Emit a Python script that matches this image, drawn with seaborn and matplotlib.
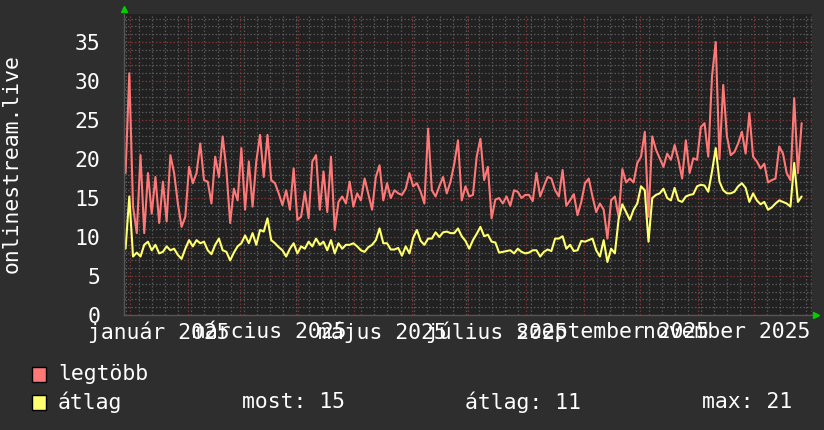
import numpy as np
import pandas as pd
import matplotlib
matplotlib.use("Agg")
import matplotlib.pyplot as plt
import matplotlib.dates as mdates
from matplotlib.patches import Rectangle
from matplotlib.transforms import offset_copy
import seaborn as sns

# ---------------- data ----------------
series_labels = ["legtöbb", "átlag"]
y_label = "onlinestream.live"
month_labels = ["január 2025", "március 2025", "május 2025",
                "július 2025", "szeptember 2025", "november 2025"]
label_months = ["2025-01-01", "2025-03-01", "2025-05-01",
                "2025-07-01", "2025-09-01", "2025-11-01"]
stats_texts = ["most: 15", "átlag: 11", "max: 21"]
start_date = "2024-12-29 18:00"
step = "2D"

max_seg1 = [18.2, 31.0, 13.9, 10.5, 20.5, 10.5, 18.2, 13.0, 17.7, 11.8,
            17.1, 12.0, 20.5, 18.2, 14.3, 11.3, 12.6, 19.0, 16.9, 18.2,
            22.0, 17.3, 17.1, 14.3, 20.3, 17.7, 22.9, 18.6, 11.8, 16.2,
            14.7, 21.4, 13.5, 19.7, 13.9, 19.7, 23.1, 17.7, 23.1, 17.3,
            16.9, 15.6, 14.1, 16.0, 13.5, 18.8, 12.2]
max_seg2 = [12.6, 15.8, 12.4, 19.7, 20.5, 13.5, 18.4, 13.2, 20.3, 10.9,
            14.5, 15.2, 14.3, 17.1, 13.9, 15.6, 14.7, 17.5, 15.5, 13.5,
            17.7, 19.2, 14.7, 16.9, 15.0, 16.0, 15.6, 15.4, 16.2, 18.2,
            16.5, 16.9, 15.8, 14.3, 23.9, 16.0, 15.2, 16.5, 17.7, 15.6,
            17.1, 19.4, 22.4, 14.7, 16.5, 15.2]
max_seg3 = [15.4, 20.3, 22.6, 17.3, 19.0, 12.4, 14.8, 15.0, 14.3, 15.2,
            14.0, 16.0, 15.8, 15.0, 15.4, 15.4, 14.6, 18.2, 15.2, 16.5,
            17.7, 17.5, 16.0, 15.2, 18.6, 14.0, 14.7, 15.5, 12.8, 14.5,
            16.9, 17.5, 15.2, 13.2, 14.3, 13.5, 9.8, 14.7, 15.2, 12.6,
            18.7, 17.0, 17.5, 17.0, 19.5, 20.3]
max_seg4 = [23.5, 12.6, 22.9, 21.2, 20.1, 19.0, 20.7, 19.9, 21.8, 19.9,
            17.5, 22.4, 18.2, 20.1, 19.9, 24.1, 24.6, 20.3, 30.6, 35.0,
            20.0, 29.5, 22.9, 20.5, 20.9, 22.0, 23.5, 20.7, 25.9, 20.3,
            19.7, 18.8, 19.4, 17.0, 17.3, 17.5, 21.6, 20.7, 18.2, 17.3,
            27.8, 18.2, 24.6]

avg_seg1 = [8.5, 15.2, 7.5, 8.0, 7.5, 9.0, 9.4, 8.3, 9.0, 7.9,
            8.1, 8.8, 8.3, 8.5, 7.7, 7.2, 8.5, 9.6, 8.8, 9.6,
            9.2, 9.4, 8.3, 7.8, 9.0, 9.8, 8.3, 8.1, 7.0, 8.0,
            8.8, 9.2, 10.2, 9.2, 10.5, 9.0, 10.9, 10.7, 12.4, 9.6,
            9.2, 8.7, 8.3, 7.5, 8.5, 9.2, 7.9]
avg_seg2 = [8.8, 8.5, 9.4, 8.8, 9.8, 9.0, 9.4, 8.3, 9.6, 7.9,
            9.2, 8.5, 9.0, 9.0, 9.2, 8.8, 8.3, 8.1, 8.7, 9.0,
            9.6, 11.1, 9.2, 9.2, 8.4, 8.4, 8.6, 7.6, 8.8, 7.9,
            9.9, 10.9, 9.5, 9.0, 9.8, 9.8, 10.6, 10.0, 10.6, 10.7,
            10.5, 10.5, 11.1, 10.1, 9.5, 8.5]
avg_seg3 = [9.6, 10.4, 11.3, 10.1, 10.3, 9.4, 9.3, 8.0, 8.1, 8.2,
            8.3, 7.9, 8.5, 8.1, 7.9, 8.0, 8.3, 8.3, 7.5, 8.1,
            8.4, 8.2, 9.8, 9.8, 10.1, 8.5, 9.0, 8.2, 8.3, 9.5,
            9.4, 9.6, 9.8, 8.3, 7.5, 9.6, 6.8, 8.5, 7.9, 12.3,
            14.2, 13.2, 12.2, 13.5, 14.3, 16.5]
avg_seg4 = [16.0, 9.4, 15.0, 15.4, 15.6, 16.2, 15.0, 14.7, 16.3, 14.7,
            14.5, 15.2, 15.4, 15.5, 16.5, 16.7, 16.6, 15.8, 18.4, 21.4,
            17.1, 16.0, 15.6, 15.6, 15.8, 16.5, 16.9, 16.3, 14.5, 15.6,
            14.7, 14.2, 14.5, 13.5, 13.8, 14.3, 14.7, 14.5, 14.3, 13.9,
            19.5, 14.5, 15.2]

max_vals = max_seg1 + max_seg2 + max_seg3 + max_seg4
avg_vals = avg_seg1 + avg_seg2 + avg_seg3 + avg_seg4
dates = pd.date_range(start_date, periods=len(max_vals), freq=step)
df = pd.DataFrame({"date": dates, "max": max_vals, "avg": avg_vals})

# ---------------- style ----------------
OUTER = "#2e2e2e"
INNER = "#212121"
RED = "#ff7878"
YEL = "#ffff70"
MINOR = "#575757"
MAJOR = "#7e3333"
TXT = "#ffffff"

sns.set_theme(style="dark")
plt.rcParams["font.family"] = ["DejaVu Sans Mono", "DejaVu Sans"]
FS = 15.4

fig = plt.figure(figsize=(8.24, 4.30), dpi=100, facecolor=OUTER)
ax = fig.add_axes([124 / 824, 1 - 315 / 430, (812 - 124) / 824, (315 - 14) / 430])
ax.set_facecolor(INNER)

sns.lineplot(data=df, x="date", y="max", ax=ax, color=RED, lw=1.5, estimator=None)
sns.lineplot(data=df, x="date", y="avg", ax=ax, color=YEL, lw=1.5, estimator=None)

ax.set_xlim(pd.Timestamp("2024-12-28 22:00"), pd.Timestamp("2026-01-01 07:00"))
ax.set_ylim(0, 38.6)

# grid: weekly (Monday) minor, monthly major; 1-unit minor, 5-unit major
ax.xaxis.set_major_locator(mdates.MonthLocator())
ax.xaxis.set_minor_locator(mdates.WeekdayLocator(byweekday=mdates.MO))
ax.xaxis.set_major_formatter(plt.NullFormatter())
ax.set_yticks(np.arange(0, 36, 5))
ax.set_yticks(np.arange(0, 39, 1), minor=True)
ax.grid(which="minor", color=MINOR, linestyle=(0, (1.2, 1.6)), lw=0.9)
ax.grid(which="major", color=MAJOR, linestyle=(0, (1.2, 1.6)), lw=0.9)
ax.set_axisbelow(True)

ax.tick_params(axis="both", which="major", direction="out", length=3,
               color=MAJOR, width=1)
ax.tick_params(axis="both", which="minor", direction="out", length=2,
               color=MINOR, width=1)
ax.tick_params(axis="y", which="major", labelsize=FS, labelcolor=TXT, pad=14)
ax.tick_params(axis="y", which="minor", length=0)

for s in ["top", "right"]:
    ax.spines[s].set_visible(False)
for s in ["left", "bottom"]:
    ax.spines[s].set_color("#555555")
    ax.spines[s].set_linewidth(1)

ax.set_xlabel("")
ax.set_ylabel("")

# month labels, centred mid-month like rrdtool
for lab, m in zip(month_labels, label_months):
    xpos = pd.Timestamp(m) + pd.Timedelta(days=15.5)
    ax.text(mdates.date2num(xpos), -0.022, lab, transform=ax.get_xaxis_transform(),
            ha="center", va="top", fontsize=FS, color=TXT)

# vertical axis title
fig.text(12 / 824, 1 - 164 / 430, y_label, rotation=90, ha="center", va="center",
         fontsize=FS, color=TXT)

# green arrows
up = offset_copy(ax.transAxes, fig=fig, x=0, y=5, units="dots")
ax.plot([0], [1], marker="^", color="#00d000", markersize=5, transform=up,
        clip_on=False, lw=0)
rt = offset_copy(ax.transAxes, fig=fig, x=4, y=0, units="dots")
ax.plot([1], [0], marker=">", color="#00d000", markersize=5, transform=rt,
        clip_on=False, lw=0)

# legend
W, H = 824, 430
for (yc, col, lab) in [(374, RED, series_labels[0]), (402, YEL, series_labels[1])]:
    fig.patches.append(Rectangle((32 / W, 1 - (yc + 7.5) / H), 14 / W, 15 / H,
                                 transform=fig.transFigure, facecolor=col,
                                 edgecolor="black", lw=1))
    fig.text(58 / W, 1 - yc / H, lab, ha="left", va="center", fontsize=FS, color=TXT)

for xs, t in zip([242, 465, 702], stats_texts):
    fig.text(xs / W, 1 - 402 / H, t, ha="left", va="center", fontsize=FS, color=TXT)

fig.savefig("out.png", dpi=100, facecolor=OUTER)
